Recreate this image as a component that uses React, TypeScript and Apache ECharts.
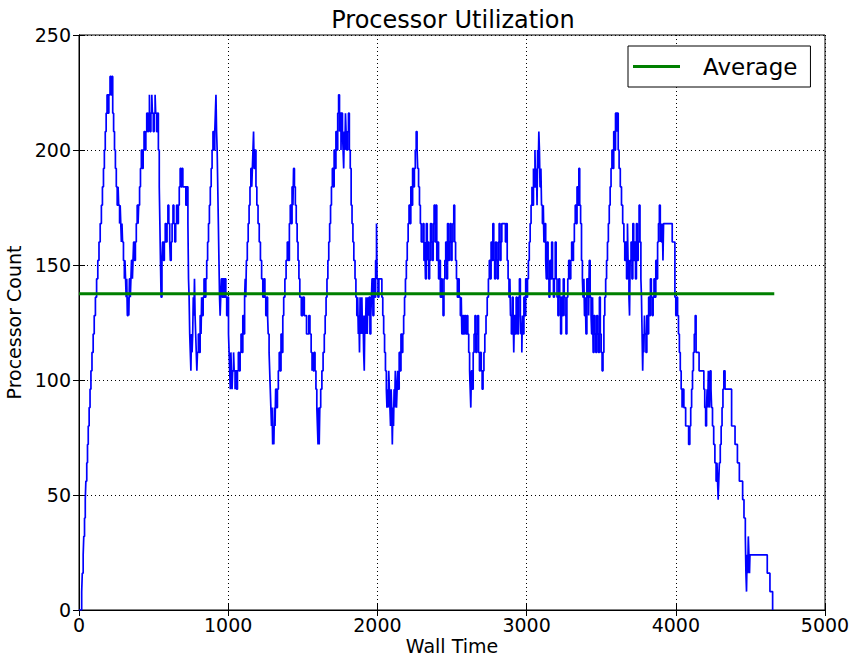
import React, { useEffect, useRef } from "react";
import * as echarts from "echarts";

const chartTitle = "Processor Utilization";
const xAxisName = "Wall Time";
const yAxisName = "Processor Count";
const legendLabel = "Average";
const xTicks = [0, 1000, 2000, 3000, 4000, 5000];
const yTicks = [0, 50, 100, 150, 200, 250];
const averageValue = 137.5;
const averageSpan = [0, 4660];

// [wall time, processor count] — step samples
const utilization: [number, number][] = [
  [0,0],[18,8],[22,16],[28,24],[32,32],[37,40],[42,48],[46,56],[52,64],[57,72],[62,80],[68,88],[74,96],[80,104],[87,112],[95,120],[102,128],[110,136],[118,144],[126,152],[134,160],[142,168],[150,176],[157,184],[164,192],[170,200],[176,208],[182,216],[188,224],[195,216],[200,224],[208,232],[214,224],[220,232],[226,216],[232,208],[238,200],[244,192],
  [250,184],[256,176],[262,184],[266,176],[272,168],[276,176],[280,168],[284,160],[288,168],[292,160],[298,152],[304,144],[308,152],[312,144],[316,136],[320,144],[324,128],[330,136],[334,128],[338,144],[344,136],[348,144],[352,152],[358,144],[362,152],
  [366,160],[372,152],[378,160],[384,168],[390,176],[396,168],[400,176],[406,184],[412,192],[418,200],[424,192],[430,200],[436,208],[442,200],[448,208],[454,216],[460,208],[466,216],[472,224],[476,208],[482,216],[488,224],[492,216],[498,208],[504,216],[510,224],[514,216],[520,208],[526,216],[532,200],[538,184],[542,168],[546,152],[550,136],[556,152],
  [560,160],[566,152],[572,160],[578,168],[584,160],[590,168],[596,176],[602,168],[608,160],[612,152],[618,160],[624,168],[630,176],[636,168],[642,160],[648,168],[654,176],[660,168],[666,176],[672,184],[678,192],[684,184],[690,192],[696,184],[716,176],[722,184],[730,168],[734,144],[738,136],
  [742,120],[746,112],[750,104],[754,120],[758,112],[762,120],[766,136],[770,128],[774,144],[778,128],[782,120],[786,112],[790,104],[794,112],[800,120],[806,112],[812,128],[818,120],[822,136],[826,128],[832,136],[838,144],[844,136],
  [850,144],[856,152],[862,160],[868,168],[874,176],[880,184],[886,192],[892,200],[898,208],[904,200],[910,208],[914,216],[918,224],[922,208],[926,200],[930,184],[934,168],[938,152],[942,136],[946,128],[950,136],[954,144],[960,136],[966,144],[972,136],[978,144],[984,136],[990,128],[996,136],
  [1002,120],[1006,112],[1010,104],[1014,96],[1018,112],[1022,104],[1026,96],[1030,104],[1036,112],[1040,104],[1046,96],[1050,104],[1056,96],[1062,104],[1068,112],[1074,104],[1080,112],[1086,120],[1092,112],[1098,128],[1104,120],[1110,136],[1114,144],[1118,136],
  [1122,152],[1128,160],[1134,168],[1140,176],[1146,184],[1152,192],[1158,184],[1162,192],[1166,200],[1170,208],[1174,192],[1180,200],[1186,184],[1192,176],[1200,168],[1208,160],[1216,152],[1224,144],[1232,136],[1240,144],[1246,136],[1252,128],[1258,136],[1264,128],[1268,120],[1274,112],[1278,104],[1282,96],[1286,88],[1290,80],[1294,88],[1298,72],[1302,80],[1306,72],[1310,88],[1314,80],[1318,96],[1324,88],[1330,96],[1336,104],[1342,112],[1348,104],[1354,120],[1360,112],[1366,128],[1372,136],
  [1380,144],[1388,152],[1396,160],[1404,152],[1410,168],[1416,176],[1422,168],[1428,184],[1434,176],[1438,192],[1444,184],[1450,176],[1456,168],[1462,160],[1468,152],[1474,144],[1480,136],[1490,128],[1500,136],[1510,128],[1525,120],[1540,128],[1548,120],[1556,112],[1562,104],[1566,112],[1570,104],[1576,112],[1582,104],[1588,96],[1594,88],[1598,80],[1602,72],[1606,88],[1610,72],[1614,88],[1620,96],[1628,104],[1636,112],[1644,120],[1650,128],[1656,136],
  [1662,144],[1668,152],[1674,160],[1680,168],[1686,176],[1692,184],[1698,192],[1704,184],[1710,200],[1716,192],[1722,208],[1728,200],[1734,216],[1740,224],[1746,208],[1750,216],[1756,200],[1760,216],[1766,208],[1770,200],[1774,192],[1778,208],[1782,200],[1786,216],[1790,208],[1794,200],[1800,208],[1806,216],[1812,200],[1818,192],[1824,176],[1830,168],[1836,160],[1842,152],[1850,144],[1856,136],
  [1862,128],[1868,136],[1872,120],[1876,128],[1880,112],[1884,136],[1888,120],[1892,128],[1896,136],[1900,120],[1904,128],[1908,112],[1912,104],[1916,128],[1920,120],[1924,136],[1928,128],[1932,120],[1936,136],[1940,128],[1944,136],[1950,120],[1956,128],[1960,136],[1964,144],[1970,128],[1976,144],[1982,136],[1988,152],[1994,168],[1998,144],[2004,136],[2010,144],[2030,136],
  [2036,128],[2042,120],[2048,112],[2054,104],[2060,96],[2064,88],[2068,96],[2072,88],[2076,104],[2080,96],[2084,88],[2088,80],[2092,96],[2096,88],[2100,72],[2104,88],[2108,80],[2112,96],[2116,88],[2120,104],[2124,96],[2128,88],[2132,96],[2136,104],[2140,96],[2146,112],[2152,104],[2158,120],
  [2164,112],[2170,120],[2176,128],[2182,136],[2188,144],[2194,152],[2200,160],[2206,168],[2212,176],[2218,168],[2224,184],[2230,176],[2236,192],[2242,184],[2248,192],[2254,200],[2260,208],[2266,200],[2270,192],[2276,184],[2282,176],[2288,168],[2294,160],
  [2300,160],[2306,168],[2312,152],[2318,160],[2322,144],[2328,168],[2334,152],[2338,160],[2344,144],[2350,152],[2356,168],[2362,160],[2368,152],[2374,168],[2380,176],[2386,160],[2392,176],[2398,152],[2404,160],[2410,144],[2416,152],[2422,136],[2428,144],[2434,136],[2440,128],[2446,144],[2452,152],[2458,160],[2464,144],[2470,168],[2476,152],[2482,160],[2488,168],[2494,152],[2500,160],[2506,168],[2512,176],[2518,160],[2524,152],[2530,144],[2536,136],[2542,144],[2548,136],[2556,128],[2562,136],[2566,120],[2572,128],[2578,120],[2584,128],[2592,120],[2600,128],[2606,120],[2612,112],[2618,104],[2622,96],[2626,88],[2630,104],[2636,96],[2642,112],[2648,120],[2654,128],[2660,112],[2666,120],[2672,128],[2678,112],[2684,104],[2690,112],[2696,104],[2702,96],[2708,104],[2714,112],[2720,120],[2728,128],[2736,136],[2744,144],
  [2750,152],[2756,144],[2762,160],[2768,152],[2774,168],[2780,152],[2786,144],[2792,160],[2798,152],[2804,144],[2810,160],[2816,168],[2822,152],[2828,160],[2834,168],[2852,168],[2858,160],[2864,168],[2870,152],[2876,144],[2882,136],[2888,144],[2892,128],[2898,120],[2904,136],[2910,128],[2914,112],[2918,128],[2924,120],[2930,136],[2936,128],[2940,120],[2946,136],[2952,144],[2958,128],[2962,120],[2968,112],[2972,128],[2976,120],[2982,136],[2988,128],[2994,144],
  [3000,136],[3006,144],[3012,152],[3018,160],[3024,168],[3030,176],[3036,184],[3040,176],[3046,192],[3050,184],[3056,200],[3060,184],[3066,192],[3070,176],[3074,200],[3078,192],[3082,208],[3086,200],[3090,184],[3096,192],[3100,176],[3106,168],[3112,176],[3116,160],[3122,168],[3128,152],[3132,144],[3138,160],[3144,144],[3150,136],[3156,152],[3162,144],[3168,160],[3174,144],[3180,136],[3186,144],[3192,160],[3198,144],[3204,136],[3210,128],[3216,144],[3222,136],[3228,120],[3234,136],[3240,128],[3246,144],[3252,136],[3258,128],[3264,120],[3270,136],[3276,144],
  [3282,152],[3290,144],[3296,152],[3302,160],[3308,152],[3314,160],[3320,168],[3326,176],[3332,168],[3338,184],[3344,176],[3350,192],[3356,176],[3362,168],[3368,152],[3374,144],[3378,136],[3384,144],[3388,128],[3394,136],[3398,120],[3404,144],[3410,136],[3416,128],[3420,152],[3426,136],[3432,128],[3436,120],[3442,136],[3446,112],[3452,128],[3458,120],[3464,112],[3470,128],[3476,120],[3482,112],[3488,136],[3494,120],[3500,112],[3506,104],[3512,112],[3518,128],[3524,136],
  [3530,144],[3536,152],[3542,160],[3548,168],[3554,176],[3560,184],[3566,192],[3572,200],[3578,192],[3584,208],[3590,200],[3596,216],[3604,208],[3608,216],[3614,200],[3620,192],[3628,184],[3636,176],[3644,168],[3652,160],[3658,152],[3664,160],[3670,144],[3676,168],[3680,152],[3686,136],[3690,128],[3694,152],[3700,160],[3706,144],[3712,168],[3718,152],[3724,160],[3730,144],[3736,168],[3742,152],[3748,160],[3754,176],[3760,160],[3766,144],[3770,136],[3774,120],[3778,104],[3782,120],[3786,112],[3790,128],[3794,120],[3800,112],[3806,128],[3812,120],[3818,136],[3824,128],[3830,144],[3836,136],
  [3842,128],[3848,136],[3854,144],[3860,136],[3866,152],[3872,144],[3878,160],[3884,168],[3890,176],[3896,160],[3900,168],[3904,160],[3910,168],[3914,152],[3918,168],[3976,160],[3994,136],[4000,128],[4006,136],[4012,128],[4018,120],[4024,112],[4030,104],[4036,96],[4042,88],[4046,96],[4054,88],[4066,80],[4086,72],[4094,80],[4100,88],[4106,96],[4112,104],[4118,112],[4124,120],[4130,128],[4136,112],[4156,104],[4188,96],[4194,88],[4200,80],[4206,88],[4210,96],[4214,88],[4218,104],[4222,96],[4226,88],[4230,104],[4236,96],[4240,88],[4246,80],[4254,72],[4262,64],[4270,56],[4276,64],[4280,56],[4284,48],[4288,56],[4292,64],[4298,72],[4304,80],[4310,88],[4316,96],[4322,104],[4330,96],[4374,80],[4397,72],[4413,64],[4426,56],[4448,48],[4457,40],[4466,32],[4470,16],[4474,8],[4478,24],[4482,16],[4486,32],[4490,24],[4494,16],[4497,24],[4613,16],[4631,8],[4649,0],
];

const FONT = "DejaVu Sans";

export default function App() {
  const ref = useRef<HTMLDivElement>(null);
  useEffect(() => {
    document.body.style.margin = "0";
    if (!ref.current) return;
    const chart = echarts.init(ref.current, null, { renderer: "svg" });
    const tickAxisCommon = {
      axisLine: { show: true, lineStyle: { color: "#000", width: 1 } },
      axisTick: { show: true, inside: true, length: 6, lineStyle: { color: "#000", width: 1 } },
    };
    chart.setOption({
      animation: false,
      backgroundColor: "#fff",
      textStyle: { fontFamily: FONT },
      title: {
        text: chartTitle,
        left: 448,
        top: 3,
        textAlign: "center",
        textStyle: { fontFamily: FONT, fontSize: 24, fontWeight: "normal", color: "#000" },
      },
      legend: {
        data: [legendLabel],
        left: 628,
        top: 46,
        orient: "horizontal",
        backgroundColor: "#fff",
        borderColor: "#000",
        borderWidth: 1,
        borderRadius: 0,
        padding: [8, 13, 8, 5],
        icon: "rect",
        itemWidth: 47,
        itemHeight: 3,
        textStyle: { fontFamily: FONT, fontSize: 23, color: "#000", padding: [0, 0, 0, 18], lineHeight: 25 },
      },
      grid: {
        left: 79,
        top: 35,
        width: 746,
        height: 575,
        outerBoundsMode: "none",
        containLabel: false,
        show: true,
        borderColor: "#000",
        borderWidth: 1,
        backgroundColor: "#fff",
      },
      xAxis: [
        {
          type: "value",
          position: "bottom",
          min: xTicks[0],
          max: xTicks[xTicks.length - 1],
          interval: 1000,
          ...tickAxisCommon,
          axisLabel: { fontFamily: FONT, fontSize: 19, color: "#000", margin: 5, formatter: (v: number) => String(v) },
          splitLine: { show: true, lineStyle: { color: "#000", type: [1, 3], width: 1 } },
          name: xAxisName,
          nameLocation: "middle",
          nameGap: 26,
          nameMoveOverlap: false,
          nameTextStyle: { fontFamily: FONT, fontSize: 19, color: "#000", verticalAlign: "top", lineHeight: 19 },
        },
        {
          type: "value",
          position: "top",
          min: xTicks[0],
          max: xTicks[xTicks.length - 1],
          interval: 1000,
          ...tickAxisCommon,
          axisLabel: { show: false },
          splitLine: { show: false },
        },
      ],
      yAxis: [
        {
          type: "value",
          position: "left",
          min: yTicks[0],
          max: yTicks[yTicks.length - 1],
          interval: 50,
          ...tickAxisCommon,
          axisLabel: { fontFamily: FONT, fontSize: 19, color: "#000", margin: 8, formatter: (v: number) => String(v) },
          splitLine: { show: true, lineStyle: { color: "#000", type: [1, 3], width: 1 } },
          name: yAxisName,
          nameLocation: "middle",
          nameGap: 46,
          nameTextStyle: { fontFamily: FONT, fontSize: 19, color: "#000" },
        },
        {
          type: "value",
          position: "right",
          min: yTicks[0],
          max: yTicks[yTicks.length - 1],
          interval: 50,
          ...tickAxisCommon,
          axisLabel: { show: false },
          splitLine: { show: false },
        },
      ],
      series: [
        {
          name: "Processors",
          type: "line",
          step: "end",
          xAxisIndex: 0,
          yAxisIndex: 0,
          data: utilization,
          showSymbol: false,
          symbol: "none",
          lineStyle: { color: "#0000ff", width: 1.7 },
          itemStyle: { color: "#0000ff" },
          z: 2,
        },
        {
          name: legendLabel,
          type: "line",
          xAxisIndex: 0,
          yAxisIndex: 0,
          data: [
            [averageSpan[0], averageValue],
            [averageSpan[1], averageValue],
          ],
          showSymbol: false,
          symbol: "none",
          lineStyle: { color: "#008000", width: 3 },
          itemStyle: { color: "#008000" },
          z: 3,
        },
      ],
    });
    return () => chart.dispose();
  }, []);
  return <div ref={ref} style={{ width: 850, height: 657 }} />;
}
